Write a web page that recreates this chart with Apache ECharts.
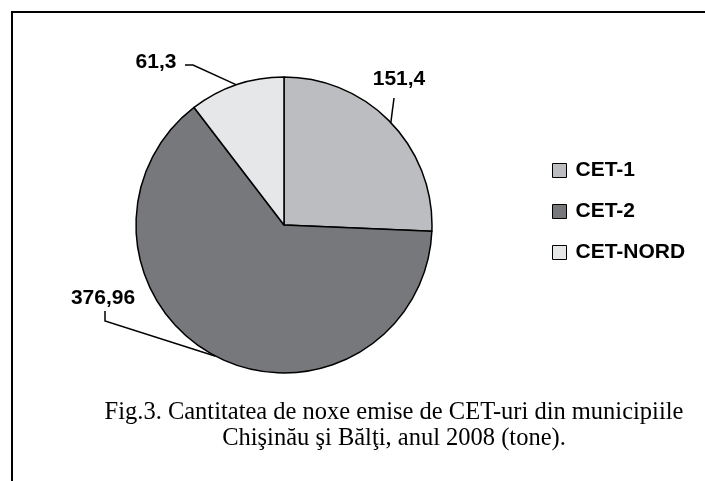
<!DOCTYPE html>
<html>
<head>
<meta charset="utf-8">
<script src="https://cdn.jsdelivr.net/npm/echarts@6/dist/echarts.min.js"></script>
<style>
  html, body { margin: 0; padding: 0; background: #fff; }
  #chart { width: 705px; height: 481px; }
</style>
</head>
<body>
<div id="chart"></div>
<script>
// date din figura
var categories = ['CET-1', 'CET-2', 'CET-NORD'];
var values = [151.4, 376.96, 61.3];
var valueLabels = ['151,4', '376,96', '61,3'];
var sliceColors = ['#bcbdc0', '#77787b', '#e6e7e8'];
var captionLines = [
  'Fig.3. Cantitatea de noxe emise de CET-uri din municipiile',
  'Chişinău şi Bălţi, anul 2008 (tone).'
];

// unde stau etichetele (x, y centru text) si cotul liniei
var labelSpots = [
  { x: 399, y: 79, bend: [394, 98], end: [394, 98] },
  { x: 103, y: 298, bend: [105, 321], end: [105, 311] },
  { x: 156, y: 62, bend: [193, 65], end: [185, 65] }
];

var chart = echarts.init(document.getElementById('chart'));

chart.setOption({
  animation: false,
  color: sliceColors,
  legend: {
    orient: 'vertical',
    left: 547,
    top: 155,
    itemWidth: 14,
    itemHeight: 14,
    itemGap: 20,
    icon: 'rect',
    data: categories,
    textStyle: {
      fontFamily: 'Liberation Sans, Arial, sans-serif',
      fontWeight: 'bold',
      fontSize: 21,
      lineHeight: 21,
      padding: [0, 0, 0, 4],
      color: '#000'
    },
    itemStyle: { borderColor: '#000', borderWidth: 1 }
  },
  graphic: [
    {
      type: 'polyline',
      shape: { points: [[12, 481], [12, 12], [705, 12]] },
      style: { stroke: '#000', lineWidth: 2, fill: null }
    },
    {
      type: 'text',
      x: 394,
      y: 413,
      style: {
        text: captionLines[0],
        font: '24.5px "Liberation Serif", "Times New Roman", serif',
        fill: '#000',
        align: 'center',
        verticalAlign: 'middle'
      }
    },
    {
      type: 'text',
      x: 394,
      y: 439,
      style: {
        text: captionLines[1],
        font: '24.5px "Liberation Serif", "Times New Roman", serif',
        fill: '#000',
        align: 'center',
        verticalAlign: 'middle'
      }
    }
  ],
  series: [
    {
      type: 'pie',
      center: [284, 225],
      radius: 148,
      startAngle: 90,
      clockwise: true,
      data: categories.map(function (c, i) {
        return { name: c, value: values[i] };
      }),
      itemStyle: { borderColor: '#000', borderWidth: 1.5 },
      emphasis: { disabled: true },
      label: {
        show: true,
        position: 'outside',
        formatter: function (p) { return valueLabels[p.dataIndex]; },
        fontFamily: 'Liberation Sans, Arial, sans-serif',
        fontWeight: 'bold',
        fontSize: 21,
        color: '#000'
      },
      labelLine: {
        show: true,
        length: 20,
        length2: 10,
        lineStyle: { color: '#000', width: 1.5 }
      },
      labelLayout: function (params) {
        var s = labelSpots[params.dataIndex];
        var edge = params.labelLinePoints ? params.labelLinePoints[0] : s.bend;
        return {
          x: s.x,
          y: s.y,
          align: 'center',
          verticalAlign: 'middle',
          labelLinePoints: [edge, s.bend, s.end]
        };
      }
    }
  ]
});
</script>
</body>
</html>
